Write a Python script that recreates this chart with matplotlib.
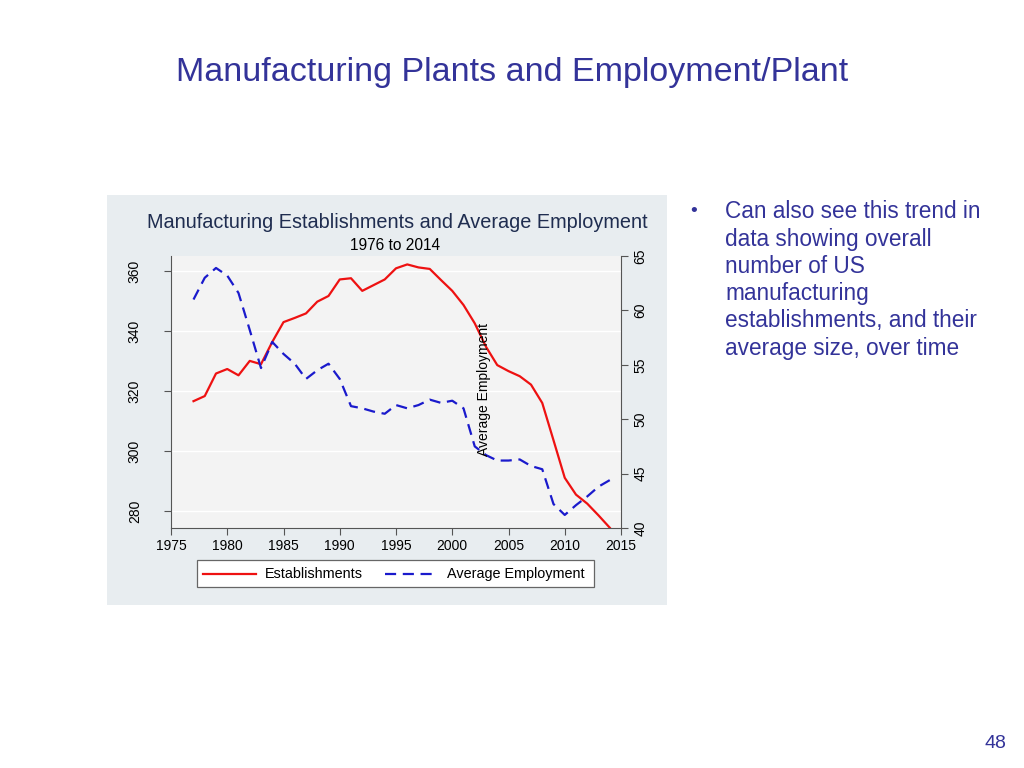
import matplotlib
matplotlib.use("Agg")
import matplotlib.pyplot as plt
from matplotlib.patches import Rectangle
from matplotlib.lines import Line2D

plt.rcParams['font.family'] = ['Liberation Sans', 'DejaVu Sans']

years = list(range(1977, 2015))
establishments = [316.7, 318.4, 325.9, 327.4, 325.3, 330.1, 329.0, 336.4, 343.0, 344.4,
                  345.9, 349.8, 351.7, 357.2, 357.6, 353.4, 355.3, 357.2, 360.9, 362.2,
                  361.2, 360.7, 357.0, 353.4, 348.7, 342.6, 334.8, 328.7, 326.7, 325.0,
                  322.2, 316.1, 303.7, 291.2, 285.6, 282.6, 278.7, 274.6]
avg_employment = [61.0, 63.0, 63.9, 63.2, 61.6, 58.2, 54.7, 57.1, 56.0, 55.1,
                  53.7, 54.5, 55.1, 53.7, 51.2, 51.0, 50.7, 50.5, 51.3, 51.0,
                  51.3, 51.8, 51.5, 51.7, 51.0, 47.5, 46.7, 46.2, 46.2, 46.3,
                  45.7, 45.4, 42.2, 41.2, 42.1, 42.9, 43.8, 44.4]
x_ticks = [1975, 1980, 1985, 1990, 1995, 2000, 2005, 2010, 2015]
left_ticks = [280, 300, 320, 340, 360]
right_ticks = [40, 45, 50, 55, 60, 65]
series_names = ['Establishments', 'Average Employment']

RED = '#ee1111'
BLUE = '#1a1acc'

W, H = 1024, 768
fig = plt.figure(figsize=(W / 100, H / 100), dpi=100)
fig.patch.set_facecolor('white')

def fx(px):
    return px / W

def fy(py):
    return 1 - py / H

# chart panel background
fig.add_artist(Rectangle((fx(107), fy(605)), fx(667) - fx(107), fy(195) - fy(605),
                         transform=fig.transFigure, facecolor='#e8edf0', edgecolor='none', zorder=0))

# slide title
fig.text(fx(512), fy(73), 'Manufacturing Plants and Employment/Plant', ha='center', va='center',
         fontsize=24.5, color='#333399')

# chart titles
fig.text(fx(397), fy(222), 'Manufacturing Establishments and Average Employment', ha='center', va='center',
         fontsize=14.3, color='#1f2d50')
fig.text(fx(395), fy(246), '1976 to 2014', ha='center', va='center', fontsize=11.2, color='black')

ax = fig.add_axes([fx(171), fy(528), fx(621) - fx(171), fy(256) - fy(528)])
ax.set_facecolor('#f3f3f3')
ax.plot(years, establishments, color=RED, lw=1.6, zorder=3)
ax.set_xlim(1975, 2015)
ax.set_ylim(274.5, 365)
ax.set_xticks(x_ticks)
ax.set_yticks(left_ticks)
for y in left_ticks:
    ax.axhline(y, color='white', lw=1.0, zorder=1)
ax.tick_params(axis='x', labelsize=10, length=5, color='#555555', pad=3)
ax.tick_params(axis='y', labelsize=10, length=5, color='#555555', pad=16, labelrotation=90)
for lab in ax.get_yticklabels():
    lab.set_va('center')
ax.spines['top'].set_visible(False)
ax.spines['right'].set_visible(False)
for s in ['left', 'bottom']:
    ax.spines[s].set_color('#555555')

ax2 = ax.twinx()
ax2.plot(years, avg_employment, color=BLUE, lw=1.6, ls=(0, (5, 3)), zorder=3)
ax2.set_ylim(40, 65)
ax2.set_yticks(right_ticks)
ax2.tick_params(axis='y', labelsize=10, length=5, color='#555555', pad=4, labelrotation=90)
for lab in ax2.get_yticklabels():
    lab.set_va('center')
ax2.spines['top'].set_visible(False)
ax2.spines['left'].set_visible(False)
ax2.spines['bottom'].set_visible(False)
ax2.spines['right'].set_color('#555555')

fig.text(fx(484), fy(390), 'Average Employment', rotation=90, ha='center', va='center',
         fontsize=10, color='black')

# legend (drawn manually)
fig.add_artist(Rectangle((fx(197), fy(587)), fx(594) - fx(197), fy(560) - fy(587),
                         transform=fig.transFigure, facecolor='white', edgecolor='#666666',
                         lw=0.9, zorder=2))
ly = fy(574)
fig.add_artist(Line2D([fx(203), fx(256)], [ly, ly], transform=fig.transFigure,
                      color=RED, lw=1.6, zorder=3))
fig.text(fx(265), ly, series_names[0], ha='left', va='center', fontsize=10.4, color='black')
fig.add_artist(Line2D([fx(385), fx(437)], [ly, ly], transform=fig.transFigure,
                      color=BLUE, lw=1.6, ls=(0, (5, 3)), zorder=3))
fig.text(fx(447), ly, series_names[1], ha='left', va='center', fontsize=10.4, color='black')

# bullet text
bullet_lines = ['Can also see this trend in', 'data showing overall', 'number of US',
                'manufacturing', 'establishments, and their', 'average size, over time']
fig.text(fx(690), fy(212), '\u2022', ha='left', va='center', fontsize=14, color='#333399')
for i, line in enumerate(bullet_lines):
    fig.text(fx(725), fy(212 + i * 27.2), line, ha='left', va='center', fontsize=16.3, color='#333399')

fig.text(fx(995), fy(744), '48', ha='center', va='center', fontsize=14, color='#333399')

fig.savefig('out.png', dpi=100, facecolor='white')
